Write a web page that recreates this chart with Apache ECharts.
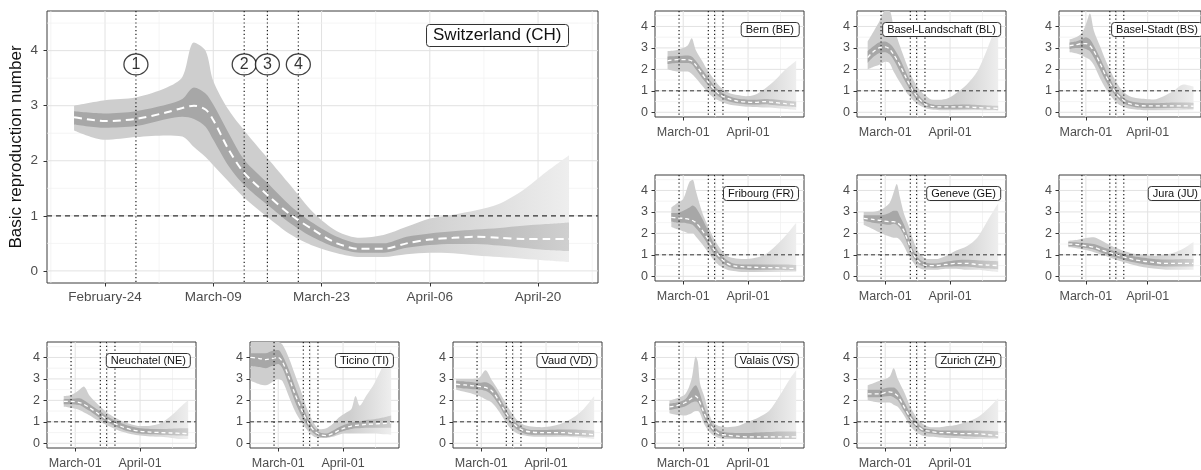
<!DOCTYPE html>
<html><head><meta charset="utf-8">
<script src="https://cdn.jsdelivr.net/npm/echarts@6/dist/echarts.min.js"></script>
<style>html,body{margin:0;padding:0;background:#fff}#c{width:1201px;height:470px}</style>
</head><body><div id="c"></div>
<script>
// ---------- DATA (days counted from February-24, 2020) ----------
const X_MIN = -7.5, X_MAX = 63.75, Y_MIN = -0.22, Y_MAX = 4.72;
const interventionDays = [4, 18, 21, 25];
const interventionLabels = ['1', '2', '3', '4'];
const interventionLabelLevel = 3.75;
const refLevels = [1];
const mainTickDays = [0, 14, 28, 42, 56];
const mainTickLabels = ['February-24', 'March-09', 'March-23', 'April-06', 'April-20'];
const mainMinorDays = [-7, 7, 21, 35, 49, 63];
const smallTickDays = [6, 37];
const smallTickLabels = ['March-01', 'April-01'];
const smallMinorDays = [21.5, 52.5];
const yTicks = [0, 1, 2, 3, 4];
const yMinor = [0.5, 1.5, 2.5, 3.5, 4.5];

// Switzerland
const CH_day   = [-4, 0, 4, 8, 10, 11.5, 13, 14, 16, 18, 21, 24, 27, 30, 33, 36, 39, 42, 45, 48, 51, 54, 57, 60];
const CH_med   = [2.79, 2.72, 2.76, 2.88, 2.96, 3.0, 2.93, 2.74, 2.2, 1.78, 1.38, 1.02, 0.74, 0.5, 0.4, 0.4, 0.5, 0.57, 0.6, 0.62, 0.6, 0.58, 0.58, 0.58];
const CH_inLo  = [2.66, 2.6, 2.63, 2.76, 2.8, 2.76, 2.62, 2.38, 1.9, 1.56, 1.2, 0.86, 0.6, 0.42, 0.33, 0.33, 0.42, 0.47, 0.49, 0.49, 0.46, 0.42, 0.38, 0.36];
const CH_inHi  = [2.9, 2.86, 2.9, 3.02, 3.12, 3.33, 3.22, 3.02, 2.5, 2.02, 1.6, 1.18, 0.86, 0.62, 0.5, 0.5, 0.62, 0.68, 0.72, 0.75, 0.78, 0.82, 0.85, 0.88];
const CH_outLo = [2.55, 2.38, 2.43, 2.46, 2.44, 2.25, 2.07, 1.92, 1.62, 1.33, 0.98, 0.66, 0.45, 0.32, 0.25, 0.25, 0.3, 0.33, 0.32, 0.28, 0.25, 0.22, 0.19, 0.16];
const CH_outHi = [3.0, 3.1, 3.15, 3.33, 3.52, 4.15, 4.0, 3.45, 2.92, 2.55, 2.05, 1.55, 1.05, 0.72, 0.6, 0.65, 0.8, 0.95, 1.02, 1.1, 1.22, 1.46, 1.79, 2.1];

// Bern
const BE_day   = [-1.5, 3, 8, 10, 12, 15, 18, 21, 24, 28, 32, 36, 40, 45, 50, 55, 60];
const BE_med   = [2.4, 2.45, 2.45, 2.4, 2.2, 1.8, 1.4, 1.05, 0.8, 0.62, 0.52, 0.48, 0.46, 0.5, 0.45, 0.4, 0.36];
const BE_inLo  = [2.25, 2.3, 2.3, 2.25, 2.0, 1.6, 1.25, 0.9, 0.68, 0.5, 0.42, 0.38, 0.36, 0.38, 0.33, 0.28, 0.24];
const BE_inHi  = [2.6, 2.62, 2.65, 2.6, 2.4, 2.0, 1.6, 1.2, 0.95, 0.75, 0.63, 0.6, 0.58, 0.62, 0.6, 0.55, 0.5];
const BE_outLo = [2.0, 1.9, 1.9, 1.8, 1.6, 1.25, 0.9, 0.65, 0.5, 0.36, 0.3, 0.26, 0.25, 0.22, 0.2, 0.15, 0.1];
const BE_outHi = [2.85, 2.9, 3.1, 3.45, 2.9, 2.4, 1.9, 1.5, 1.15, 0.9, 0.8, 0.75, 0.8, 1.1, 1.5, 2.0, 2.4];

// Basel-Landschaft
const BL_day   = [-2.4, 0, 3, 6, 8, 10, 13, 16, 19, 22, 25, 28, 32, 36, 40, 45, 50, 55, 60];
const BL_med   = [2.55, 2.8, 3.0, 3.05, 2.95, 2.7, 2.2, 1.6, 1.05, 0.65, 0.38, 0.28, 0.25, 0.25, 0.25, 0.25, 0.22, 0.2, 0.18];
const BL_inLo  = [2.3, 2.55, 2.75, 2.8, 2.7, 2.45, 1.9, 1.35, 0.85, 0.5, 0.28, 0.2, 0.17, 0.17, 0.17, 0.16, 0.14, 0.12, 0.1];
const BL_inHi  = [2.85, 3.05, 3.25, 3.3, 3.2, 3.0, 2.5, 1.85, 1.25, 0.8, 0.5, 0.38, 0.34, 0.34, 0.35, 0.36, 0.34, 0.32, 0.3];
const BL_outLo = [2.0, 2.1, 2.2, 2.35, 2.3, 1.9, 1.4, 0.95, 0.6, 0.35, 0.2, 0.13, 0.1, 0.1, 0.1, 0.1, 0.1, 0.08, 0.08];
const BL_outHi = [3.3, 3.7, 4.2, 4.72, 4.72, 4.0, 3.1, 2.3, 1.6, 1.1, 0.8, 0.6, 0.58, 0.65, 0.9, 1.3, 1.9, 3.0, 4.3];

// Basel-Stadt
const BS_day   = [-2.2, 1, 4, 6, 8, 10, 13, 16, 19, 22, 25, 28, 32, 36, 40, 45, 50, 55, 60];
const BS_med   = [3.1, 3.15, 3.2, 3.2, 3.1, 2.85, 2.3, 1.7, 1.2, 0.8, 0.55, 0.4, 0.32, 0.3, 0.3, 0.3, 0.3, 0.3, 0.28];
const BS_inLo  = [2.95, 3.0, 3.0, 2.95, 2.85, 2.55, 2.0, 1.45, 1.0, 0.65, 0.42, 0.3, 0.22, 0.2, 0.2, 0.2, 0.2, 0.18, 0.16];
const BS_inHi  = [3.25, 3.3, 3.4, 3.5, 3.4, 3.1, 2.55, 1.95, 1.4, 0.95, 0.68, 0.52, 0.45, 0.42, 0.42, 0.43, 0.45, 0.45, 0.44];
const BS_outLo = [2.8, 2.75, 2.65, 2.55, 2.45, 2.2, 1.6, 1.1, 0.7, 0.4, 0.25, 0.16, 0.12, 0.1, 0.1, 0.1, 0.1, 0.1, 0.1];
const BS_outHi = [3.4, 3.5, 3.7, 4.1, 4.6, 3.8, 3.1, 2.4, 1.8, 1.3, 0.95, 0.75, 0.65, 0.62, 0.6, 0.75, 1.0, 1.3, 1.2];

// Fribourg
const FR_day   = [0.3, 3, 6, 9, 10.5, 12, 15, 18, 21, 24, 27, 30, 35, 40, 45, 50, 55, 60];
const FR_med   = [2.75, 2.72, 2.7, 2.65, 2.6, 2.5, 2.15, 1.7, 1.2, 0.85, 0.6, 0.48, 0.44, 0.42, 0.4, 0.4, 0.38, 0.36];
const FR_inLo  = [2.55, 2.5, 2.5, 2.45, 2.4, 2.25, 1.9, 1.45, 1.0, 0.7, 0.48, 0.38, 0.33, 0.3, 0.3, 0.3, 0.28, 0.25];
const FR_inHi  = [2.95, 2.95, 3.05, 3.2, 3.3, 3.2, 2.7, 2.1, 1.45, 1.0, 0.75, 0.6, 0.55, 0.55, 0.55, 0.55, 0.55, 0.52];
const FR_outLo = [2.3, 2.2, 2.1, 2.0, 2.0, 1.85, 1.5, 1.1, 0.7, 0.45, 0.3, 0.25, 0.2, 0.2, 0.2, 0.2, 0.2, 0.2];
const FR_outHi = [3.2, 3.4, 3.6, 4.4, 4.5, 4.0, 3.0, 2.3, 1.7, 1.25, 0.95, 0.85, 0.8, 0.85, 1.0, 1.4, 1.9, 2.5];

// Geneve
const GE_day   = [-4.3, 0, 4, 8, 10, 11.5, 13, 15, 17, 19, 21, 23, 26, 30, 35, 40, 45, 50, 55, 60];
const GE_med   = [2.7, 2.65, 2.6, 2.55, 2.55, 2.5, 2.4, 2.1, 1.6, 1.1, 0.8, 0.6, 0.5, 0.5, 0.55, 0.6, 0.6, 0.55, 0.52, 0.5];
const GE_inLo  = [2.6, 2.5, 2.45, 2.4, 2.45, 2.4, 2.25, 1.9, 1.4, 0.95, 0.68, 0.5, 0.42, 0.4, 0.45, 0.47, 0.45, 0.4, 0.36, 0.32];
const GE_inHi  = [2.85, 2.85, 2.85, 2.95, 3.05, 3.05, 2.8, 2.4, 1.85, 1.3, 0.95, 0.75, 0.62, 0.6, 0.68, 0.75, 0.77, 0.75, 0.72, 0.7];
const GE_outLo = [2.4, 2.2, 2.0, 1.85, 1.8, 1.8, 1.7, 1.4, 1.0, 0.7, 0.45, 0.35, 0.3, 0.3, 0.35, 0.35, 0.3, 0.3, 0.25, 0.2];
const GE_outHi = [3.0, 3.0, 3.1, 3.4, 3.9, 4.3, 3.7, 2.9, 2.4, 1.8, 1.3, 1.0, 0.8, 0.8, 0.95, 1.2, 1.4, 1.8, 2.6, 3.4];

// Jura
const JU_day   = [-2.8, 2, 6, 10, 14, 18, 22, 26, 30, 35, 40, 45, 50, 55, 60];
const JU_med   = [1.5, 1.48, 1.42, 1.35, 1.22, 1.1, 0.98, 0.88, 0.78, 0.7, 0.65, 0.6, 0.6, 0.6, 0.6];
const JU_inLo  = [1.4, 1.38, 1.32, 1.25, 1.1, 0.97, 0.85, 0.74, 0.65, 0.56, 0.5, 0.46, 0.45, 0.45, 0.45];
const JU_inHi  = [1.6, 1.58, 1.55, 1.5, 1.38, 1.25, 1.12, 1.02, 0.93, 0.86, 0.8, 0.78, 0.78, 0.8, 0.8];
const JU_outLo = [1.35, 1.3, 1.22, 1.12, 1.0, 0.88, 0.75, 0.63, 0.52, 0.42, 0.36, 0.32, 0.3, 0.3, 0.3];
const JU_outHi = [1.65, 1.7, 1.78, 1.82, 1.65, 1.45, 1.3, 1.15, 1.05, 1.0, 0.95, 1.0, 1.1, 1.3, 1.6];

// Neuchatel
const NE_day   = [0.5, 4, 8, 10, 13, 17, 21, 25, 29, 33, 37, 42, 47, 52, 57, 60];
const NE_med   = [1.95, 1.95, 1.9, 1.82, 1.65, 1.38, 1.12, 0.92, 0.75, 0.63, 0.56, 0.52, 0.5, 0.48, 0.46, 0.45];
const NE_inLo  = [1.82, 1.82, 1.78, 1.68, 1.5, 1.22, 1.0, 0.8, 0.63, 0.52, 0.45, 0.42, 0.4, 0.38, 0.36, 0.35];
const NE_inHi  = [2.05, 2.07, 2.1, 2.02, 1.82, 1.55, 1.27, 1.06, 0.9, 0.78, 0.7, 0.67, 0.66, 0.68, 0.7, 0.7];
const NE_outLo = [1.7, 1.65, 1.55, 1.45, 1.3, 1.05, 0.85, 0.67, 0.52, 0.42, 0.36, 0.32, 0.3, 0.25, 0.2, 0.2];
const NE_outHi = [2.2, 2.25, 2.5, 2.65, 2.2, 1.8, 1.45, 1.2, 1.0, 0.88, 0.8, 0.82, 0.95, 1.3, 1.75, 2.0];

// Ticino
const TI_day   = [-7, -3, 0, 3, 6, 8, 11, 14, 17, 20, 23, 26, 29, 32, 35, 38, 41, 43, 45, 48, 52, 56, 60];
const TI_med   = [4.0, 3.95, 3.9, 3.95, 4.0, 3.8, 3.1, 2.3, 1.6, 1.0, 0.6, 0.4, 0.36, 0.45, 0.6, 0.72, 0.8, 0.83, 0.85, 0.88, 0.9, 0.92, 0.95];
const TI_inLo  = [3.6, 3.55, 3.5, 3.6, 3.7, 3.5, 2.75, 1.95, 1.3, 0.8, 0.45, 0.3, 0.28, 0.35, 0.5, 0.6, 0.67, 0.7, 0.7, 0.72, 0.72, 0.72, 0.72];
const TI_inHi  = [4.2, 4.2, 4.2, 4.3, 4.35, 4.1, 3.45, 2.65, 1.9, 1.2, 0.75, 0.5, 0.45, 0.58, 0.75, 0.88, 0.97, 1.0, 1.02, 1.08, 1.12, 1.2, 1.3];
const TI_outLo = [2.9, 2.75, 2.7, 2.85, 3.0, 2.9, 2.2, 1.5, 1.0, 0.6, 0.32, 0.25, 0.25, 0.3, 0.4, 0.45, 0.45, 0.45, 0.45, 0.45, 0.45, 0.42, 0.4];
const TI_outHi = [4.72, 4.72, 4.72, 4.72, 4.72, 4.6, 4.0, 3.2, 2.4, 1.55, 0.95, 0.65, 0.7, 0.9, 1.2, 1.4, 1.6, 2.2, 1.75, 2.2, 2.8, 3.6, 4.4];

// Vaud
const VD_day   = [-6, -2, 2, 5, 8, 11, 14, 17, 20, 23, 26, 30, 35, 40, 45, 50, 55, 60];
const VD_med   = [2.75, 2.72, 2.68, 2.65, 2.6, 2.45, 2.05, 1.55, 1.1, 0.78, 0.6, 0.52, 0.5, 0.5, 0.5, 0.46, 0.44, 0.4];
const VD_inLo  = [2.6, 2.55, 2.52, 2.5, 2.45, 2.25, 1.85, 1.35, 0.95, 0.65, 0.48, 0.4, 0.4, 0.4, 0.38, 0.35, 0.32, 0.3];
const VD_inHi  = [2.9, 2.88, 2.85, 2.82, 2.85, 2.7, 2.3, 1.75, 1.25, 0.92, 0.72, 0.62, 0.62, 0.63, 0.64, 0.64, 0.62, 0.6];
const VD_outLo = [2.5, 2.4, 2.3, 2.2, 2.05, 1.9, 1.55, 1.1, 0.7, 0.47, 0.37, 0.32, 0.3, 0.3, 0.3, 0.28, 0.25, 0.2];
const VD_outHi = [3.0, 3.0, 3.0, 3.05, 3.4, 2.95, 2.5, 2.0, 1.5, 1.1, 0.88, 0.78, 0.75, 0.8, 0.95, 1.2, 1.6, 2.2];

// Valais
const VS_day   = [-0.6, 3, 7, 10, 12, 13, 14, 16, 18, 20, 23, 27, 32, 37, 42, 47, 52, 57, 60];
const VS_med   = [1.7, 1.75, 1.9, 2.1, 2.2, 2.1, 1.9, 1.4, 1.0, 0.7, 0.45, 0.38, 0.33, 0.3, 0.3, 0.3, 0.3, 0.3, 0.3];
const VS_inLo  = [1.55, 1.62, 1.72, 1.9, 1.95, 1.9, 1.7, 1.2, 0.82, 0.56, 0.35, 0.28, 0.24, 0.22, 0.2, 0.2, 0.2, 0.2, 0.2];
const VS_inHi  = [1.85, 1.9, 2.05, 2.5, 2.7, 2.55, 2.3, 1.7, 1.2, 0.85, 0.6, 0.5, 0.48, 0.48, 0.5, 0.52, 0.55, 0.55, 0.55];
const VS_outLo = [1.4, 1.32, 1.3, 1.4, 1.5, 1.5, 1.4, 0.9, 0.6, 0.4, 0.25, 0.2, 0.2, 0.2, 0.2, 0.2, 0.2, 0.2, 0.2];
const VS_outHi = [2.0, 2.1, 2.3, 3.0, 4.05, 3.8, 2.8, 2.2, 1.5, 1.0, 0.8, 0.75, 0.8, 1.0, 1.2, 1.5, 2.2, 3.0, 3.4];

// Zurich
const ZH_day   = [-2.4, 3, 8, 10, 12, 15, 18, 21, 24, 28, 32, 36, 40, 45, 50, 55, 60];
const ZH_med   = [2.3, 2.3, 2.4, 2.35, 2.2, 1.7, 1.2, 0.85, 0.62, 0.55, 0.5, 0.5, 0.46, 0.45, 0.45, 0.4, 0.36];
const ZH_inLo  = [2.15, 2.15, 2.2, 2.15, 2.0, 1.5, 1.05, 0.72, 0.52, 0.45, 0.4, 0.38, 0.35, 0.33, 0.3, 0.27, 0.25];
const ZH_inHi  = [2.5, 2.5, 2.6, 2.6, 2.45, 1.95, 1.4, 1.0, 0.72, 0.65, 0.6, 0.6, 0.6, 0.6, 0.6, 0.58, 0.55];
const ZH_outLo = [2.0, 1.9, 1.9, 1.8, 1.7, 1.3, 0.8, 0.5, 0.35, 0.3, 0.27, 0.25, 0.25, 0.2, 0.2, 0.2, 0.2];
const ZH_outHi = [2.7, 2.9, 3.1, 3.5, 3.0, 2.4, 1.7, 1.2, 0.9, 0.75, 0.75, 0.8, 0.85, 1.0, 1.2, 1.6, 2.1];

const panelNames = {
  CH: 'Switzerland (CH)', BE: 'Bern (BE)', BL: 'Basel-Landschaft (BL)', BS: 'Basel-Stadt (BS)',
  FR: 'Fribourg (FR)', GE: 'Geneve (GE)', JU: 'Jura (JU)', NE: 'Neuchatel (NE)',
  TI: 'Ticino (TI)', VD: 'Vaud (VD)', VS: 'Valais (VS)', ZH: 'Zurich (ZH)'
};
const panelData = {
  CH: [CH_day, CH_med, CH_inLo, CH_inHi, CH_outLo, CH_outHi],
  BE: [BE_day, BE_med, BE_inLo, BE_inHi, BE_outLo, BE_outHi],
  BL: [BL_day, BL_med, BL_inLo, BL_inHi, BL_outLo, BL_outHi],
  BS: [BS_day, BS_med, BS_inLo, BS_inHi, BS_outLo, BS_outHi],
  FR: [FR_day, FR_med, FR_inLo, FR_inHi, FR_outLo, FR_outHi],
  GE: [GE_day, GE_med, GE_inLo, GE_inHi, GE_outLo, GE_outHi],
  JU: [JU_day, JU_med, JU_inLo, JU_inHi, JU_outLo, JU_outHi],
  NE: [NE_day, NE_med, NE_inLo, NE_inHi, NE_outLo, NE_outHi],
  TI: [TI_day, TI_med, TI_inLo, TI_inHi, TI_outLo, TI_outHi],
  VD: [VD_day, VD_med, VD_inLo, VD_inHi, VD_outLo, VD_outHi],
  VS: [VS_day, VS_med, VS_inLo, VS_inHi, VS_outLo, VS_outHi],
  ZH: [ZH_day, ZH_med, ZH_inLo, ZH_inHi, ZH_outLo, ZH_outHi]
};

// ---------- LAYOUT & STYLE ----------
const LAYOUT = {
  CH: [47, 11, 551, 272],
  BE: [655, 11, 149, 106], BL: [857, 11, 149, 106], BS: [1059, 11, 149, 106],
  FR: [655, 175, 149, 106], GE: [857, 175, 149, 106], JU: [1059, 175, 149, 106],
  NE: [47, 342, 149, 106], TI: [250, 342, 149, 106], VD: [453, 342, 149, 106],
  VS: [655, 342, 149, 106], ZH: [857, 342, 149, 106]
};
const ORDER = ['CH', 'BE', 'BL', 'BS', 'FR', 'GE', 'JU', 'NE', 'TI', 'VD', 'VS', 'ZH'];
const FONT = "'Liberation Sans', Arial, Helvetica, sans-serif";
const W = 1201;
const FADE_FROM = 40;

function fade(c0, c1, d0, d1) {
  const f = Math.max(0, Math.min(1, (FADE_FROM - d0) / (d1 - d0)));
  return { type: 'linear', x: 0, y: 0, x2: 1, y2: 0,
    colorStops: [{ offset: 0, color: c0 }, { offset: f, color: c0 }, { offset: 1, color: c1 }] };
}

function gridItem(params, api) {
  const cs = params.coordSys;
  const v = api.value(0), dir = api.value(2), major = api.value(3);
  let shape;
  if (dir === 0) {
    const x = api.coord([v, 0])[0];
    shape = { x1: x, y1: cs.y, x2: x, y2: cs.y + cs.height };
  } else {
    const y = api.coord([0, api.value(1)])[1];
    shape = { x1: cs.x, y1: y, x2: cs.x + cs.width, y2: y };
  }
  return { type: 'line', shape, silent: true,
    style: { stroke: major ? '#e2e2e2' : '#efefef', lineWidth: major ? 1 : 0.7 } };
}
function vlineItem(params, api) {
  const cs = params.coordSys;
  const x = api.coord([api.value(0), 0])[0];
  return { type: 'line', shape: { x1: x, y1: cs.y, x2: x, y2: cs.y + cs.height },
    style: { stroke: '#1e1e1e', lineWidth: 1.2, lineDash: [1.2, 2.6] } };
}
function hlineMain(params, api) { return hline(params, api, [5, 4], 1.2); }
function hlineSmall(params, api) { return hline(params, api, [4, 3], 1); }
function hline(params, api, dash, w) {
  const cs = params.coordSys;
  const y = api.coord([api.value(0), api.value(1)])[1];
  return { type: 'line', shape: { x1: cs.x, y1: y, x2: cs.x + cs.width, y2: y },
    style: { stroke: '#333', lineWidth: w, lineDash: dash } };
}

const grid = [], xAxis = [], yAxis = [], series = [], title = [];
// band data is stored as [value, day] so that the stack is computed on the value (y) dimension
const swapEnc = { x: 1, y: 0 };

ORDER.forEach((key, i) => {
  const main = key === 'CH';
  const L = LAYOUT[key];
  const [day, med, inLo, inHi, outLo, outHi] = panelData[key];
  const fs = main ? 13.5 : 12.5;
  const xt = main ? mainTickDays : smallTickDays;
  const xl = main ? mainTickLabels : smallTickLabels;
  const xm = main ? mainMinorDays : smallMinorDays;

  grid.push({ left: L[0], top: L[1], width: L[2], height: L[3], show: true,
    borderColor: '#3c3c3c', borderWidth: 1, backgroundColor: 'transparent', containLabel: false });
  xAxis.push({ gridIndex: i, type: 'value', min: X_MIN, max: X_MAX,
    splitLine: { show: false }, axisLine: { show: false, onZero: false },
    axisTick: { show: true, customValues: xt, length: 3.5, lineStyle: { color: '#333', width: 1 } },
    axisLabel: { show: true, customValues: xt, formatter: v => xl[xt.indexOf(v)],
      fontSize: fs, color: '#4d4d4d', fontFamily: FONT, margin: main ? 7 : 9 } });
  yAxis.push({ gridIndex: i, type: 'value', min: Y_MIN, max: Y_MAX,
    splitLine: { show: false }, axisLine: { show: false, onZero: false },
    axisTick: { show: true, customValues: yTicks, length: 3.5, lineStyle: { color: '#333', width: 1 } },
    axisLabel: { show: true, customValues: yTicks, formatter: v => String(v),
      fontSize: fs, color: '#4d4d4d', fontFamily: FONT, margin: main ? 9 : 7 },
    name: main ? 'Basic reproduction number' : '', nameLocation: 'middle', nameGap: 22,
    nameTextStyle: { fontSize: 17, color: '#111', fontFamily: FONT } });

  // grid lines
  const gl = [];
  xt.forEach(v => gl.push([v, 0, 0, 1]));
  xm.forEach(v => gl.push([v, 0, 0, 0]));
  yTicks.forEach(v => gl.push([0, v, 1, 1]));
  yMinor.forEach(v => gl.push([0, v, 1, 0]));
  series.push({ type: 'custom', xAxisIndex: i, yAxisIndex: i, z: 1, silent: true,
    renderItem: gridItem, data: gl });

  const d0 = day[0], d1 = day[day.length - 1];
  const outCol = fade('#cecece', '#eeeeee', d0, d1);
  const inCol = fade('#a7a7a7', '#d0d0d0', d0, d1);
  const sm = 0.3;
  // outer band
  series.push({ type: 'line', xAxisIndex: i, yAxisIndex: i, stack: 'o' + key, z: 2, smooth: sm,
    encode: swapEnc, symbol: 'none', silent: true, lineStyle: { width: 0, opacity: 0 },
    data: day.map((d, k) => [outLo[k], d]) });
  series.push({ type: 'line', xAxisIndex: i, yAxisIndex: i, stack: 'o' + key, z: 2, smooth: sm,
    encode: swapEnc, symbol: 'none', silent: true, lineStyle: { width: 0, opacity: 0 },
    areaStyle: { color: outCol, opacity: 1 },
    data: day.map((d, k) => [outHi[k] - outLo[k], d]) });
  // inner band
  series.push({ type: 'line', xAxisIndex: i, yAxisIndex: i, stack: 'i' + key, z: 2, smooth: sm,
    encode: swapEnc, symbol: 'none', silent: true, lineStyle: { width: 0, opacity: 0 },
    data: day.map((d, k) => [inLo[k], d]) });
  series.push({ type: 'line', xAxisIndex: i, yAxisIndex: i, stack: 'i' + key, z: 2, smooth: sm,
    encode: swapEnc, symbol: 'none', silent: true, lineStyle: { width: 0, opacity: 0 },
    areaStyle: { color: inCol, opacity: 1 },
    data: day.map((d, k) => [inHi[k] - inLo[k], d]) });
  // reference lines
  series.push({ type: 'custom', xAxisIndex: i, yAxisIndex: i, z: 3, silent: true,
    renderItem: vlineItem, data: interventionDays.map(d => [d, 0]) });
  series.push({ type: 'custom', xAxisIndex: i, yAxisIndex: i, z: 3, silent: true,
    renderItem: main ? hlineMain : hlineSmall, data: refLevels.map(v => [0, v]) });
  // median
  series.push({ type: 'line', xAxisIndex: i, yAxisIndex: i, z: 4, smooth: sm, symbol: 'none', silent: true,
    lineStyle: { color: '#ffffff', width: main ? 2 : 1.3, type: main ? [8, 5] : [4, 3] },
    data: day.map((d, k) => [d, med[k]]) });

  if (main) {
    series.push({ type: 'scatter', xAxisIndex: i, yAxisIndex: i, z: 6, silent: true,
      symbol: 'circle', symbolSize: [24, 21],
      itemStyle: { color: '#fff', borderColor: '#111', borderWidth: 1.2 },
      label: { show: true, position: 'inside', formatter: p => interventionLabels[p.dataIndex],
        fontSize: 16, color: '#000', fontFamily: FONT },
      data: interventionDays.map(d => [d, interventionLabelLevel]) });
  }

  // panel label box
  const boxRight = main ? L[0] + L[2] - 29.5 : L[0] + L[2] - 5;
  title.push({ text: panelNames[key], right: W - boxRight, top: L[1] + (main ? 13 : 11),
    padding: main ? [3, 7] : [2, 5], borderWidth: 1, borderColor: '#333', borderRadius: 3,
    backgroundColor: '#fff',
    textStyle: { fontSize: main ? 17 : 11, fontWeight: 'normal', color: '#111', fontFamily: FONT } });
});

const chart = echarts.init(document.getElementById('c'), null, { renderer: 'canvas', width: 1201, height: 470 });
chart.setOption({ animation: false, backgroundColor: '#fff', title, grid, xAxis, yAxis, series });
</script>
</body></html>
